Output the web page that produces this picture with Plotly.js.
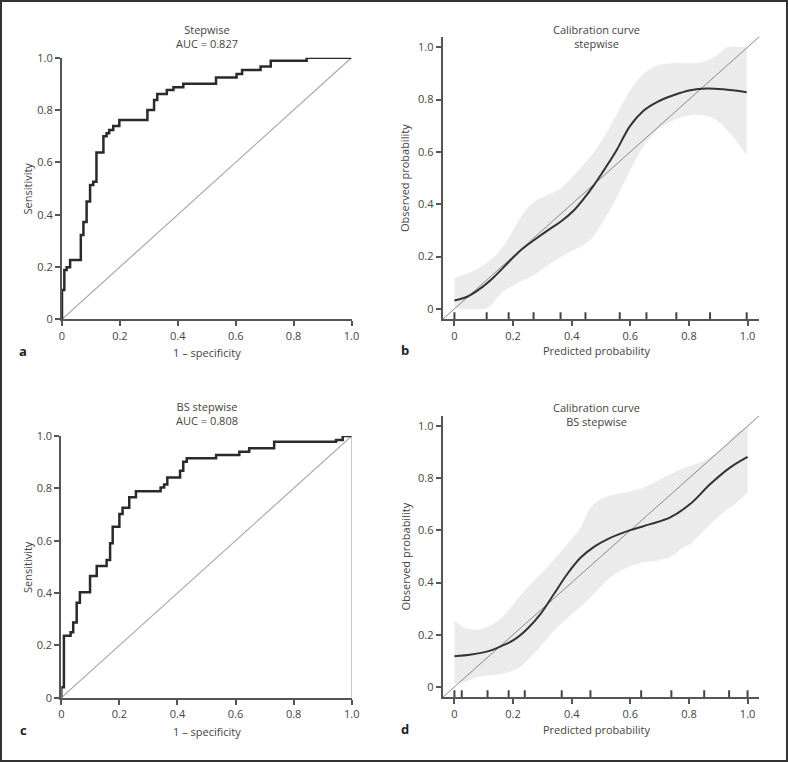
<!DOCTYPE html>
<html>
<head>
<meta charset="utf-8">
<script src="https://cdn.plot.ly/plotly-3.0.1.min.js"></script>
<style>html,body{margin:0;padding:0;background:#fff;}#chart{width:788px;height:762px;}</style>
</head>
<body>
<div id="chart"></div>
<script>
// ---------- Data ----------
// Panel a: ROC, Stepwise (step vertices: fpr, tpr)
const rocA_fpr = [0,0,0.008,0.008,0.016,0.016,0.028,0.028,0.065,0.065,0.074,0.074,0.085,0.085,0.097,0.097,0.108,0.108,0.119,0.119,0.143,0.143,0.154,0.154,0.163,0.163,0.177,0.177,0.198,0.198,0.295,0.295,0.318,0.318,0.329,0.329,0.362,0.362,0.385,0.385,0.419,0.419,0.532,0.532,0.603,0.603,0.622,0.622,0.686,0.686,0.721,0.721,0.845,0.845,1.0];
const rocA_tpr = [0,0.112,0.112,0.188,0.188,0.199,0.199,0.227,0.227,0.322,0.322,0.372,0.372,0.45,0.45,0.513,0.513,0.526,0.526,0.638,0.638,0.70,0.70,0.711,0.711,0.724,0.724,0.739,0.739,0.762,0.762,0.80,0.80,0.838,0.838,0.861,0.861,0.877,0.877,0.887,0.887,0.90,0.90,0.924,0.924,0.938,0.938,0.953,0.953,0.966,0.966,0.988,0.988,1.0,1.0];

// Panel c: ROC, BS stepwise
const rocC_fpr = [0,0,0.009,0.009,0.032,0.032,0.041,0.041,0.053,0.053,0.064,0.064,0.099,0.099,0.122,0.122,0.156,0.156,0.168,0.168,0.177,0.177,0.2,0.2,0.211,0.211,0.234,0.234,0.257,0.257,0.342,0.342,0.354,0.354,0.365,0.365,0.409,0.409,0.42,0.42,0.432,0.432,0.533,0.533,0.613,0.613,0.647,0.647,0.733,0.733,0.946,0.946,0.969,0.969,1.0];
const rocC_tpr = [0,0.04,0.04,0.237,0.237,0.25,0.25,0.287,0.287,0.363,0.363,0.403,0.403,0.465,0.465,0.503,0.503,0.526,0.526,0.59,0.59,0.653,0.653,0.702,0.702,0.726,0.726,0.766,0.766,0.789,0.789,0.803,0.803,0.815,0.815,0.841,0.841,0.867,0.867,0.902,0.902,0.915,0.915,0.927,0.927,0.94,0.94,0.953,0.953,0.978,0.978,0.985,0.985,1.0,1.0];

// Panel b: calibration, stepwise
const calB_x   = [0,0.045,0.091,0.136,0.181,0.227,0.272,0.317,0.362,0.408,0.442,0.476,0.51,0.538,0.555,0.6,0.645,0.691,0.747,0.804,0.861,0.917,0.997];
const calB_y   = [0.032,0.047,0.08,0.123,0.174,0.225,0.263,0.299,0.333,0.377,0.422,0.473,0.53,0.578,0.61,0.7,0.757,0.79,0.816,0.835,0.842,0.839,0.828];
const calB_upX = [0,0.045,0.091,0.136,0.181,0.227,0.272,0.317,0.362,0.408,0.453,0.464,0.51,0.555,0.6,0.645,0.691,0.747,0.804,0.849,0.895,0.929,0.997];
const calB_up  = [0.117,0.136,0.161,0.199,0.263,0.352,0.409,0.435,0.46,0.511,0.568,0.581,0.657,0.746,0.835,0.898,0.93,0.939,0.939,0.943,0.968,1.0,1.0];
const calB_loX = [0,0.113,0.159,0.215,0.272,0.328,0.385,0.43,0.464,0.51,0.555,0.6,0.645,0.691,0.747,0.804,0.849,0.895,0.951,0.997];
const calB_lo  = [0.003,0.003,0.06,0.098,0.13,0.174,0.212,0.238,0.263,0.339,0.428,0.53,0.62,0.682,0.721,0.74,0.74,0.721,0.657,0.587];
const rugB     = [0,0.11,0.185,0.27,0.362,0.447,0.564,0.655,0.757,0.872,0.997];

// Panel d: calibration, BS stepwise
const calD_x   = [0,0.057,0.113,0.159,0.204,0.249,0.294,0.34,0.385,0.43,0.476,0.521,0.6,0.668,0.736,0.804,0.872,0.94,1.0];
const calD_y   = [0.117,0.124,0.136,0.156,0.181,0.223,0.28,0.357,0.433,0.495,0.537,0.566,0.601,0.624,0.65,0.701,0.777,0.841,0.882];
const calD_upX = [0,0.034,0.079,0.125,0.17,0.215,0.261,0.306,0.351,0.396,0.43,0.464,0.51,0.577,0.645,0.713,0.781,0.849,0.917,0.963,1.0];
const calD_up  = [0.255,0.227,0.219,0.236,0.274,0.338,0.395,0.446,0.503,0.561,0.611,0.688,0.726,0.745,0.764,0.802,0.838,0.866,0.917,0.974,0.994];
const calD_loX = [0,0.034,0.079,0.125,0.17,0.215,0.261,0.306,0.351,0.396,0.442,0.487,0.532,0.577,0.645,0.691,0.736,0.781,0.804,0.861,0.917,0.963,1.0];
const calD_lo  = [0.013,0.019,0.038,0.045,0.051,0.07,0.115,0.172,0.229,0.274,0.319,0.37,0.42,0.452,0.478,0.484,0.497,0.535,0.548,0.611,0.669,0.707,0.745];
const rugD     = [0,0.025,0.113,0.185,0.24,0.366,0.464,0.637,0.74,0.852,0.937,1.0];

const tickVals = [0,0.2,0.4,0.6,0.8,1.0];
const tickText = ["0","0.2","0.4","0.6","0.8","1.0"];

// ---------- Build ----------
const W = 788, H = 762;
const fx = p => p / W;
const fy = p => (H - p) / H;
const TXT = '#444', AX = '#555';
const FONT = '"Open Sans", "Noto Sans", sans-serif';

function band(xu, yu, xl, yl, xa, ya) {
  return [
    {x: xl, y: yl, xaxis: xa, yaxis: ya, type: 'scatter', mode: 'lines',
     line: {width: 0, color: 'rgba(0,0,0,0)', shape: 'spline', smoothing: 0.8}, hoverinfo: 'skip'},
    {x: xu, y: yu, xaxis: xa, yaxis: ya, type: 'scatter', mode: 'lines', fill: 'tonexty',
     fillcolor: '#ebebeb', line: {width: 0, color: 'rgba(0,0,0,0)', shape: 'spline', smoothing: 0.8}, hoverinfo: 'skip'}
  ];
}
function rug(vals, xa, ya) {
  const x = [], y = [];
  vals.forEach(v => { x.push(v, v, null); y.push(-0.04, -0.013, null); });
  return {x, y, xaxis: xa, yaxis: ya, type: 'scatter', mode: 'lines',
    line: {color: '#444', width: 2}, cliponaxis: false, hoverinfo: 'skip'};
}
function line(x, y, xa, ya, color, width, shape) {
  return {x, y, xaxis: xa, yaxis: ya, type: 'scatter', mode: 'lines',
    line: {color, width, shape: shape || 'linear'}, cliponaxis: false, hoverinfo: 'skip'};
}

const traces = [
  // a
  line([0,1],[0,1],'x','y','#aaa',1.2),
  line(rocA_fpr, rocA_tpr, 'x','y','#2a2a2a',2.5),
  // b
  ...band(calB_upX, calB_up, calB_loX, calB_lo, 'x2','y2'),
  line([-0.04,1.04],[-0.04,1.04],'x2','y2','#888',1),
  line(calB_x, calB_y, 'x2','y2','#333',2,'spline'),
  rug(rugB,'x2','y2'),
  // c
  line([0,1],[0,1],'x3','y3','#aaa',1.2),
  line([1,1],[0,1],'x3','y3','#aaa',1.2),
  line(rocC_fpr, rocC_tpr, 'x3','y3','#2a2a2a',2.5),
  // d
  ...band(calD_upX, calD_up, calD_loX, calD_lo, 'x4','y4'),
  line([-0.04,1.04],[-0.04,1.04],'x4','y4','#888',1),
  line(calD_x, calD_y, 'x4','y4','#333',2,'spline'),
  rug(rugD,'x4','y4')
];

function axis(domain, range, anchor) {
  return {domain, range, anchor, showline: true, linecolor: AX, linewidth: 2,
    ticks: 'outside', ticklen: 5, tickwidth: 2, tickcolor: AX,
    tickvals: tickVals, ticktext: tickText, showgrid: false, zeroline: false,
    tickfont: {size: 11, color: TXT, family: FONT}, fixedrange: true};
}

const layout = {
  width: W, height: H, margin: {l: 0, r: 0, t: 0, b: 0},
  paper_bgcolor: '#fff', plot_bgcolor: 'rgba(0,0,0,0)', showlegend: false,
  font: {family: FONT, color: TXT, size: 11},
  xaxis:  axis([fx(62), fx(351.5)], [0,1], 'y'),
  yaxis:  axis([fy(319.3), fy(57.7)], [0,1], 'x'),
  xaxis2: axis([fx(442.7), fx(759.3)], [-0.04,1.04], 'y2'),
  yaxis2: axis([fy(319.3), fy(36.7)], [-0.04,1.04], 'x2'),
  xaxis3: axis([fx(61.3), fx(351.7)], [0,1], 'y3'),
  yaxis3: axis([fy(697.7), fy(436)], [0,1], 'x3'),
  xaxis4: axis([fx(442.7), fx(759.3)], [-0.04,1.04], 'y4'),
  yaxis4: axis([fy(697.3), fy(415.7)], [-0.04,1.04], 'x4'),
  shapes: [{type: 'rect', xref: 'paper', yref: 'paper', x0: fx(1), x1: fx(787), y0: fy(761), y1: fy(1),
    line: {color: '#333', width: 2}, fillcolor: 'rgba(0,0,0,0)'}],
  annotations: []
};

function txt(text, x, y, opts) {
  layout.annotations.push(Object.assign({text, x: fx(x), y: fy(y), xref: 'paper', yref: 'paper',
    showarrow: false, xanchor: 'center', yanchor: 'middle',
    font: {size: 11, color: TXT, family: FONT}}, opts || {}));
}
// titles (two lines each)
txt('Stepwise<br>AUC = 0.827', 207, 36);
txt('Calibration curve<br>stepwise', 596, 36);
txt('BS stepwise<br>AUC = 0.808', 207, 414);
txt('Calibration curve<br>BS stepwise', 596, 414.5);
// axis titles
txt('1 – specificity', 207, 352); txt('1 – specificity', 207, 731);
txt('Predicted probability', 596, 351); txt('Predicted probability', 596, 729.5);
txt('Sensitivity', 27, 188.5, {textangle: -90}); txt('Sensitivity', 27, 567, {textangle: -90});
txt('Observed probability', 405, 178, {textangle: -90}); txt('Observed probability', 405, 556.5, {textangle: -90});
// panel letters
const bold = {font: {size: 13, color: '#222', family: FONT, weight: 'bold'}};
txt('<b>a</b>', 23, 351, bold); txt('<b>b</b>', 405, 350, bold);
txt('<b>c</b>', 23, 729.5, bold); txt('<b>d</b>', 405, 728.5, bold);

Plotly.newPlot('chart', traces, layout, {displayModeBar: false, staticPlot: true});
</script>
</body>
</html>
